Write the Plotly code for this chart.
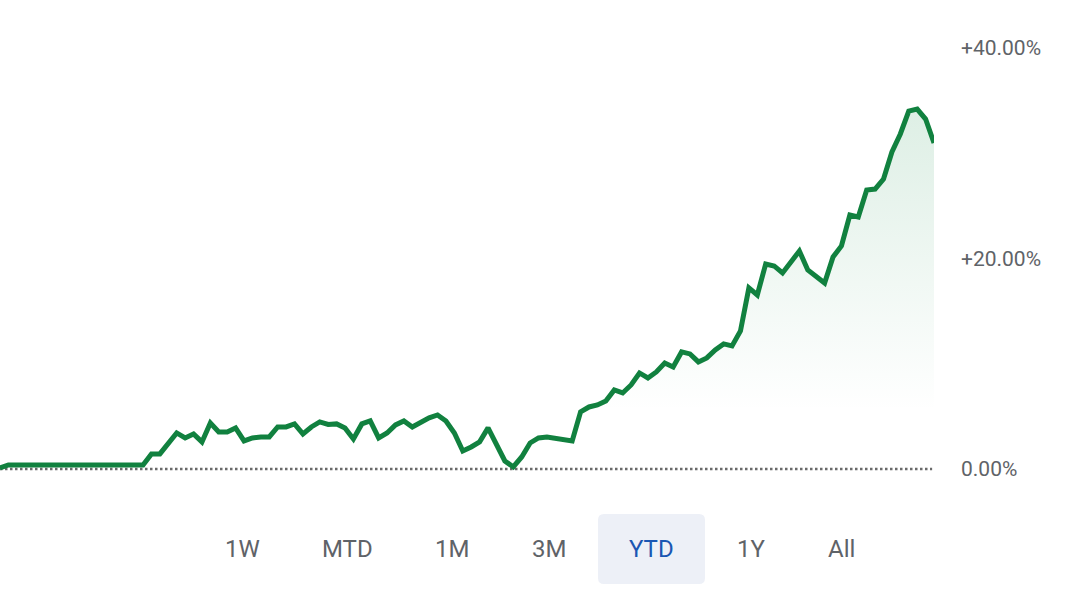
import plotly.graph_objects as go

# YTD performance, one point per trading day (index), values in percent
days = ([0, 1, 2, 3, 4, 5, 6, 7, 8, 9, 10, 11, 12, 13, 14, 15, 16, 17, 18, 19]
        + [21, 22, 23, 24, 25, 26, 27, 28, 29, 30, 31, 32, 33, 34, 35, 36, 37, 38, 39, 40,
           41, 42, 43, 44, 45, 46, 47, 48, 49, 50, 51, 52, 53, 54, 55, 56, 57, 58, 59, 60,
           61, 62, 63, 64, 65]
        + [68, 69, 70, 71, 72, 73, 74, 75, 76, 77, 78, 79, 80, 81, 82, 83, 84, 85, 86, 87,
           88, 89, 90, 91, 92, 93, 94, 95, 96, 97, 98, 99, 100, 101, 102, 103, 104, 105, 106,
           107, 108, 109, 110, 111])

pct = ([0.10, 0.38, 0.38, 0.38, 0.38, 0.38, 0.38, 0.38, 0.38, 0.38, 0.38, 0.38, 0.38, 0.38,
        0.38, 0.38, 0.38, 0.38, 1.43, 1.43]
       + [3.42, 2.95, 3.33, 2.57, 4.37, 3.52, 3.52, 3.90, 2.66, 2.95, 3.04, 3.04, 3.99, 3.99,
          4.28, 3.33, 3.99, 4.47, 4.23, 4.28, 3.90, 2.85, 4.28, 4.56, 2.95, 3.42, 4.18, 4.56,
          3.99, 4.47, 4.85, 5.13, 4.56, 3.42, 1.71, 2.09, 2.57, 3.90, 2.28, 0.76, 0.19, 1.14,
          2.47, 2.95, 3.04]
       + [2.66, 5.42, 5.89, 6.08, 6.46, 7.51, 7.22, 7.98, 9.12, 8.65, 9.22, 10.07, 9.69, 11.12,
          10.93, 10.17, 10.55, 11.31, 11.88, 11.69, 13.11, 17.20, 16.53, 19.48, 19.29, 18.62,
          19.67, 20.71, 18.91, 18.24, 17.67, 20.14, 21.19, 24.13, 23.94, 26.51, 26.60, 27.55,
          30.12, 31.83, 34.01, 34.20, 33.25, 30.97])

tick_vals = [0, 20, 40]
tick_text = ["0.00%", "+20.00%", "+40.00%"]

ranges = ["1W", "MTD", "1M", "3M", "YTD", "1Y", "All"]
selected = "YTD"

GREEN = "#11813f"
GREY = "#5f6368"

W, H = 1080, 607
PW, PH = 934, 490  # plot area size in px


def px(xp, yp):
    # pixel position -> paper coords
    return xp / PW, (PH - yp) / PH


fig = go.Figure()
fig.add_trace(go.Scatter(
    x=days, y=pct, mode="lines",
    line=dict(color=GREEN, width=5),
    fill="tozeroy",
    fillgradient=dict(type="vertical",
                      colorscale=[[0, "rgba(19,140,70,0)"], [1, "rgba(19,140,70,0.14)"]],
                      start=5.5, stop=34),
    hoverinfo="skip",
    showlegend=False,
))

shapes = [dict(type="line", xref="paper", yref="y", x0=0, x1=0.998, y0=0, y1=0,
               line=dict(color="#6a6a6a", width=2.5, dash="2.5px,2.5px"), layer="below")]

# rounded box behind the selected range
bx0, by0 = px(598, 584)
bx1, by1 = px(705, 514)
rx, ry = 6 / PW, 6 / PH
path = (f"M{bx0+rx},{by0} L{bx1-rx},{by0} Q{bx1},{by0} {bx1},{by0+ry} "
        f"L{bx1},{by1-ry} Q{bx1},{by1} {bx1-rx},{by1} L{bx0+rx},{by1} "
        f"Q{bx0},{by1} {bx0},{by1-ry} L{bx0},{by0+ry} Q{bx0},{by0} {bx0+rx},{by0} Z")
shapes.append(dict(type="path", xref="paper", yref="paper", path=path,
                   fillcolor="#edf0f7", line=dict(width=0), layer="below"))

btn_x = [242, 347, 452, 549, 651, 751, 841]
annotations = []
for name, bx in zip(ranges, btn_x):
    ax, ay = px(bx, 549)
    annotations.append(dict(
        text=name, xref="paper", yref="paper", x=ax, y=ay,
        xanchor="center", yanchor="middle", showarrow=False,
        font=dict(family="Roboto", size=24,
                  color="#1a57b3" if name == selected else GREY),
    ))

fig.update_layout(
    width=W, height=H,
    margin=dict(l=0, r=W - PW, t=0, b=H - PH),
    paper_bgcolor="white", plot_bgcolor="white",
    shapes=shapes, annotations=annotations,
    xaxis=dict(range=[0, 111], visible=False, fixedrange=True),
    yaxis=dict(range=[-2, 469 / 10.525], side="right",
               tickvals=tick_vals, ticktext=tick_text,
               showgrid=False, zeroline=False, showline=False, ticks="",
               ticklabelstandoff=26,
               tickfont=dict(family="Roboto", size=21, color=GREY),
               fixedrange=True),
    font=dict(family="Roboto"),
)

# drop the browser's default page margin so the figure sits at 0,0
fig.write_html("out.html", config={"displayModeBar": False},
               post_script="document.body.style.margin='0';")
